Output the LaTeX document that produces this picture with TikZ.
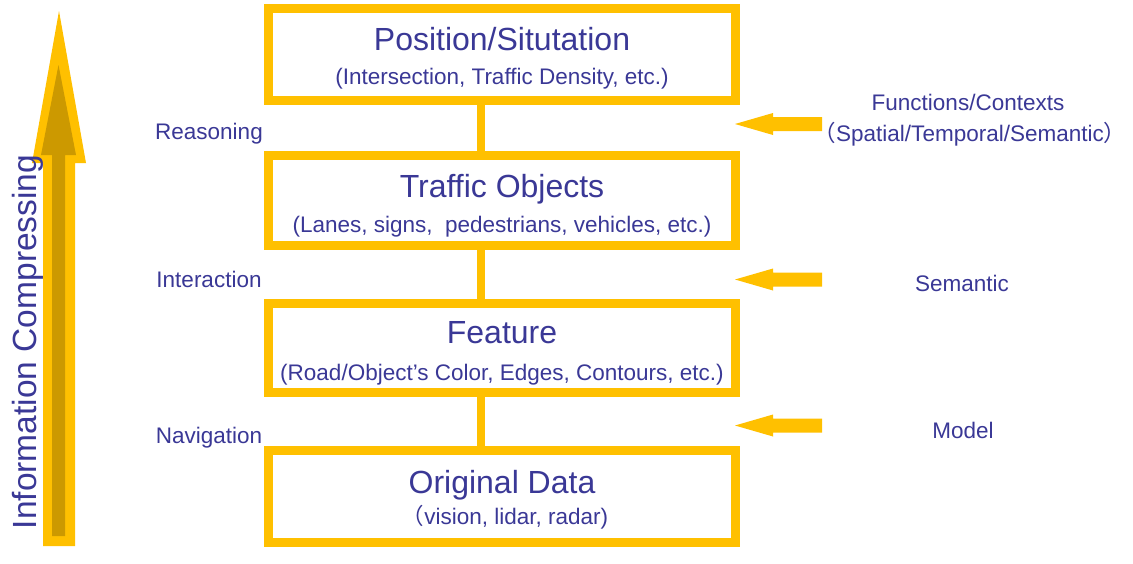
\documentclass[tikz,border=0pt]{standalone}
\usepackage{fontspec}
\setmainfont{Liberation Sans}
\newfontfamily\cjk{Noto Sans CJK SC}
\definecolor{yel}{RGB}{255,192,0}
\definecolor{dyel}{RGB}{204,153,0}
\definecolor{txt}{RGB}{58,56,150}
\tikzset{
  box/.style={draw=yel, line width=9pt, fill=white, inner sep=0pt, minimum width=467pt, rectangle},
  conn/.style={draw=yel, line width=8pt},
  ttl/.style={font=\fontsize{32}{36}\selectfont, text=txt, inner sep=0pt, anchor=base},
  sub/.style={font=\fontsize{22.5}{27}\selectfont, text=txt, inner sep=0pt, anchor=base},
  side/.style={font=\fontsize{33.5}{38}\selectfont, text=txt, inner sep=0pt, anchor=base},
  larrow/.pic={\fill[yel] (0,0) -- (38,-11) -- (38,-7) -- (87,-7) -- (87,7) -- (38,7) -- (38,11) -- cycle;}
}
\begin{document}
\begin{tikzpicture}[x=1pt,y=-1pt]
\useasboundingbox[fill=white] (0,0) rectangle (1133,563);
% big left arrow
\fill[yel] (43,546) -- (43,163) -- (32,163) -- (59,11) -- (86,163) -- (75,163) -- (75,546) -- cycle;
\fill[dyel] (52,536) -- (52,155) -- (41,155) -- (58.5,65) -- (76,155) -- (65,155) -- (65,536) -- cycle;
\node[side, rotate=90] (ic) at (36,342) {Information Compressing};
% boxes
\coordinate (cx) at (481,0);
\node[box, minimum height=92pt] (b1) at (502,54.5) {};
\node[box, minimum height=90.5pt] (b2) at (502,200.25) {};
\node[box, minimum height=89.5pt] (b3) at (502,347.75) {};
\node[box, minimum height=92pt] (b4) at (502,496.5) {};
\draw[conn] (b1.south -| cx) -- (b2.north -| cx);
\draw[conn] (b2.south -| cx) -- (b3.north -| cx);
\draw[conn] (b3.south -| cx) -- (b4.north -| cx);
% box texts
\node[ttl] (t1) at (502,50) {Position/Situtation};
\node[sub] (s1) at (502,84) {(Intersection, Traffic Density, etc.)};
\node[ttl] (t2) at (502,197) {Traffic Objects};
\node[sub] (s2) at (502,232) {(Lanes, signs,\ \ pedestrians, vehicles, etc.)};
\node[ttl] (t3) at (502,343) {Feature};
\node[sub] (s3) at (502,380) {(Road/Object’s Color, Edges, Contours, etc.)};
\node[ttl] (t4) at (502,493) {Original Data};
\node[sub] (s4) at (505,524) {{\cjk （}vision, lidar, radar)};
% left labels
\node[sub] (l1) at (209,139) {Reasoning};
\node[sub] (l2) at (209,287) {Interaction};
\node[sub] (l3) at (209,443) {Navigation};
% right arrows
\pic (a1) at (735,124) {larrow};
\pic (a2) at (735,279.5) {larrow};
\pic (a3) at (735,425.5) {larrow};
% right labels
\node[sub] (r1) at (968,110) {Functions/Contexts};
\node[sub] (r2) at (970,141) {{\cjk （}Spatial/Temporal/Semantic{\cjk ）}};
\node[sub] (r3) at (962,291) {Semantic};
\node[sub] (r4) at (963,438) {Model};
\end{tikzpicture}
\end{document}
